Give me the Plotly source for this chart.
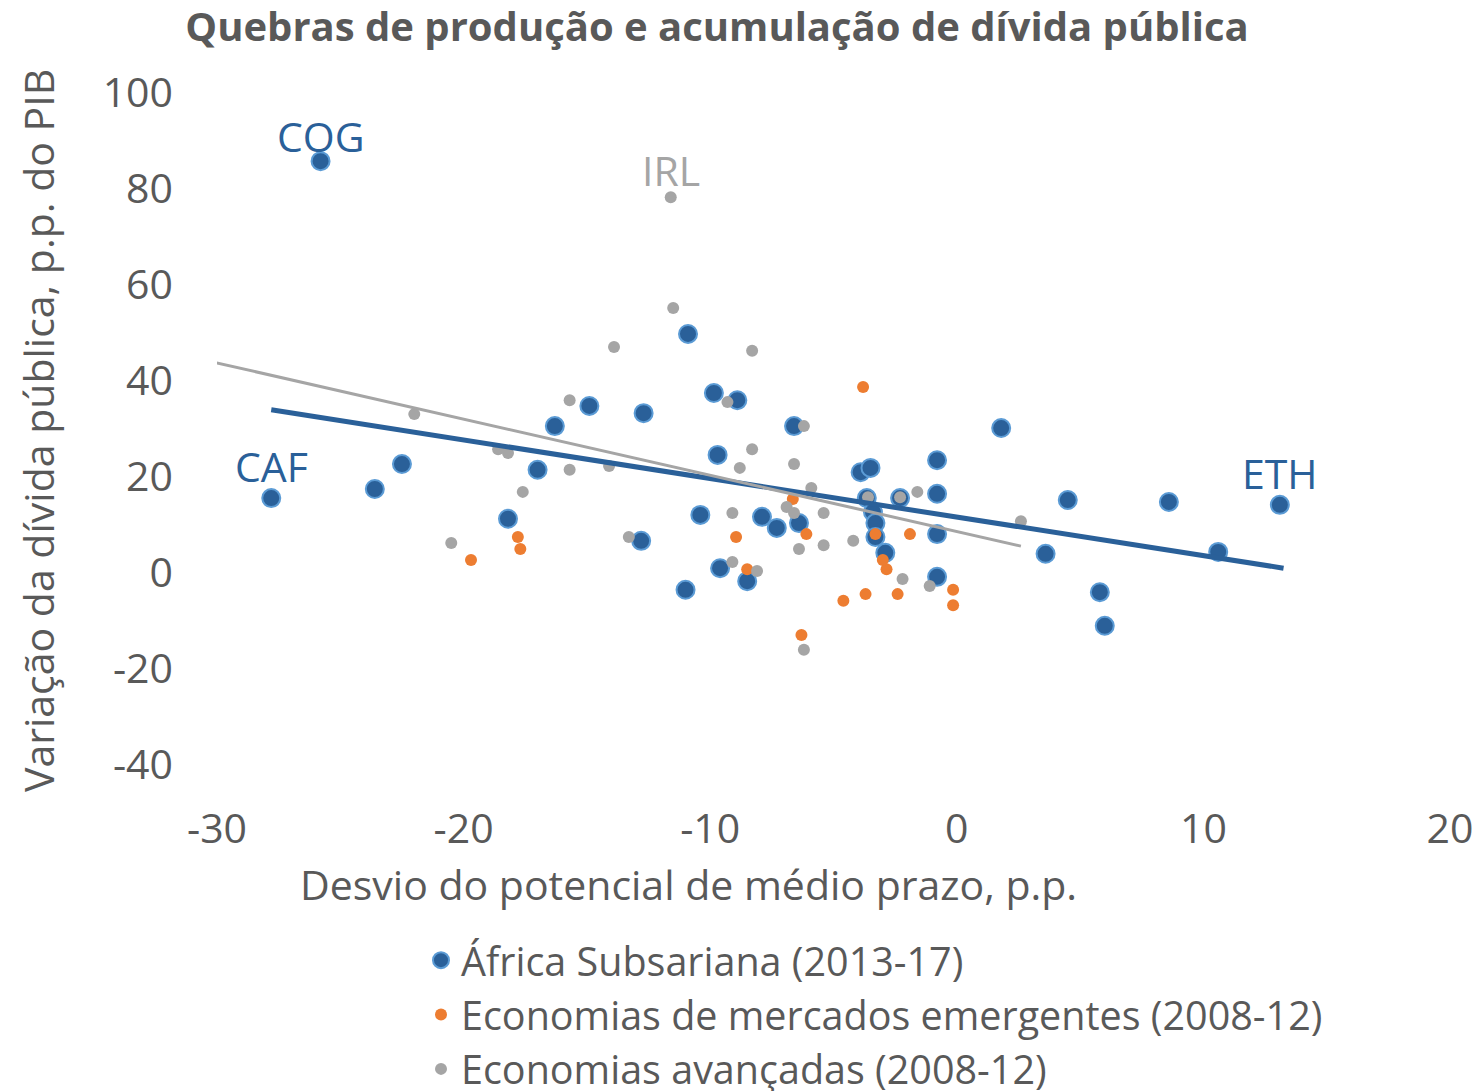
import plotly.graph_objects as go

# Sub-Saharan Africa (2013-17)
ssa_x = [-25.8, -27.8, -23.6, -22.5, -18.2, -17.0, -16.3, -14.9, -12.8, -12.7,
         -10.9, -11.0, -10.4, -9.85, -9.7, -9.6, -8.9, -8.5, -7.9, -7.3,
         -6.6, -6.4, -3.9, -3.5, -3.65, -3.4, -3.3, -3.3, -2.9, -2.3,
         -0.8, -0.8, -0.8, -0.8, 1.8, 3.6, 4.5, 5.8, 6.0, 8.6, 10.6, 13.1]
ssa_y = [85.8, 15.6, 17.5, 22.7, 11.3, 21.5, 30.6, 34.8, 6.7, 33.3,
         49.8, -3.5, 12.1, 37.5, 24.6, 1.0, 36.0, -1.7, 11.7, 9.4,
         30.6, 10.4, 21.0, 21.9, 15.6, 12.7, 10.4, 7.5, 4.2, 15.6,
         23.5, 16.5, 8.1, -0.8, 30.2, 4.0, 15.2, -4.0, -11.0, 14.8, 4.4, 14.2]
ssa_names = ["COG", "CAF"] + [""] * 39 + ["ETH"]

# Emerging market economies (2008-12)
em_x = [-3.8, -6.65, -8.95, -6.1, -8.5, -19.7, -17.8, -17.7, -2.85, -4.6,
        -3.7, -2.4, -0.15, -0.15, -6.3, -3.3, -1.9, -3.0]
em_y = [38.75, 15.4, 7.5, 8.1, 0.8, 2.7, 7.5, 5.0, 0.8, -5.8,
        -4.4, -4.4, -3.5, -6.7, -12.9, 8.1, 8.1, 2.7]

# Advanced economies (2008-12)
ae_x = [-11.6, -11.5, -13.9, -8.3, -22.0, -15.7, -9.3, -6.2, -18.6, -18.2,
        -15.7, -14.1, -17.6, -20.5, -13.3, -8.8, -8.3, -9.1, -6.6, -5.9,
        -6.9, -6.6, -5.4, -6.4, -5.4, -9.1, -8.1, -6.2, -4.2, -3.6,
        -2.3, -1.6, -2.2, -1.1, 2.6]
ae_y = [78.3, 55.2, 47.1, 46.3, 33.1, 36.0, 35.6, 30.6, 25.8, 25.0,
        21.5, 22.3, 16.9, 6.25, 7.5, 21.9, 25.8, 12.5, 22.7, 17.7,
        13.75, 12.5, 12.5, 5.0, 5.8, 2.3, 0.4, -16.0, 6.7, 15.8,
        15.8, 16.9, -1.25, -2.7, 10.8]
ae_names = ["IRL"] + [""] * 34

# Trend lines (end points)
ssa_trend_x = [-27.8, 13.25]
ssa_trend_y = [34.0, 1.0]
ae_trend_x = [-30.2, 2.6]
ae_trend_y = [44.0, 5.6]

x_ticks = [-30, -20, -10, 0, 10, 20]
x_ticktext = ["-30", "-20", "-10", "0", "10", "20"]
y_ticks = [-40, -20, 0, 20, 40, 60, 80, 100]
y_ticktext = ["-40", "-20", "0", "20", "40", "60", "80", "100"]

BLUE = "#2A6099"
BLUE_EDGE = "#5B9BD5"
ORANGE = "#ED7D31"
GRAY = "#A5A5A5"
TXT = "#595959"
FONT = "Open Sans"
FS = 41
LEG_FS = 39.5

# page body margin offset of the browser
OFF = 8
W, H = 1480 - OFF, 1091 - OFF
L, R, T, B = 217 - OFF, 30, 93 - OFF, H - (801 - OFF)
PW, PH = W - L - R, H - T - B

label_shift = {"COG": 25, "CAF": 32, "ETH": 32, "IRL": 27}

fig = go.Figure()
fig.add_trace(go.Scatter(
    x=ssa_x, y=ssa_y, mode="markers", name="África Subsariana (2013-17)",
    marker=dict(size=18, color=BLUE, line=dict(color=BLUE_EDGE, width=2)),
))
fig.add_trace(go.Scatter(
    x=em_x, y=em_y, mode="markers", name="Economias de mercados emergentes (2008-12)",
    marker=dict(size=12, color=ORANGE),
))
fig.add_trace(go.Scatter(
    x=ae_x, y=ae_y, mode="markers", name="Economias avançadas (2008-12)",
    marker=dict(size=12, color=GRAY),
))
fig.add_trace(go.Scatter(
    x=ssa_trend_x, y=ssa_trend_y, mode="lines", showlegend=False,
    line=dict(color=BLUE, width=5),
))
fig.add_trace(go.Scatter(
    x=ae_trend_x, y=ae_trend_y, mode="lines", showlegend=False,
    line=dict(color=GRAY, width=3),
))

for xs, ys, names, col in [(ssa_x, ssa_y, ssa_names, BLUE), (ae_x, ae_y, ae_names, GRAY)]:
    for xv, yv, nm in zip(xs, ys, names):
        if nm:
            fig.add_annotation(x=xv, y=yv, text=nm, showarrow=False,
                               yshift=label_shift[nm],
                               font=dict(family=FONT, size=FS, color=col))

fig.add_annotation(xref="paper", yref="paper",
                   x=(688 - OFF - L) / PW, y=-(884 - 801) / PH,
                   text="Desvio do potencial de médio prazo, p.p.", showarrow=False,
                   font=dict(family=FONT, size=FS, color=TXT),
                   xanchor="center", yanchor="middle")
fig.add_annotation(xref="paper", yref="paper",
                   x=(38 - OFF - L) / PW, y=(801 - 431) / PH,
                   text="Variação da dívida pública, p.p. do PIB", showarrow=False,
                   textangle=-90, font=dict(family=FONT, size=FS, color=TXT),
                   xanchor="center", yanchor="middle")

fig.update_layout(
    width=W, height=H,
    paper_bgcolor="white", plot_bgcolor="white",
    margin=dict(l=L, r=R, t=T, b=B, autoexpand=False),
    title=dict(text="<b>Quebras de produção e acumulação de dívida pública</b>",
               x=(717 - OFF) / W, xanchor="center", xref="container",
               y=1 - (27 - OFF) / H, yanchor="middle", yref="container",
               font=dict(family=FONT, size=40, color=TXT)),
    xaxis=dict(range=[-30, 20], tickvals=x_ticks, ticktext=x_ticktext,
               showgrid=False, zeroline=False, automargin=False,
               showline=False, ticks="", tickfont=dict(family=FONT, size=FS, color=TXT)),
    yaxis=dict(range=[-47.5, 100], tickvals=y_ticks, ticktext=y_ticktext,
               showgrid=False, zeroline=False, automargin=False,
               showline=False, ticks="", ticklabelstandoff=43,
               tickfont=dict(family=FONT, size=FS, color=TXT)),
    legend=dict(orientation="v", xref="container", yref="container",
                x=413 / W, y=1 - 920 / H, xanchor="left", yanchor="top",
                font=dict(family=FONT, size=LEG_FS, color=TXT), tracegroupgap=0),
    showlegend=True,
)

fig.write_html("out.html")
